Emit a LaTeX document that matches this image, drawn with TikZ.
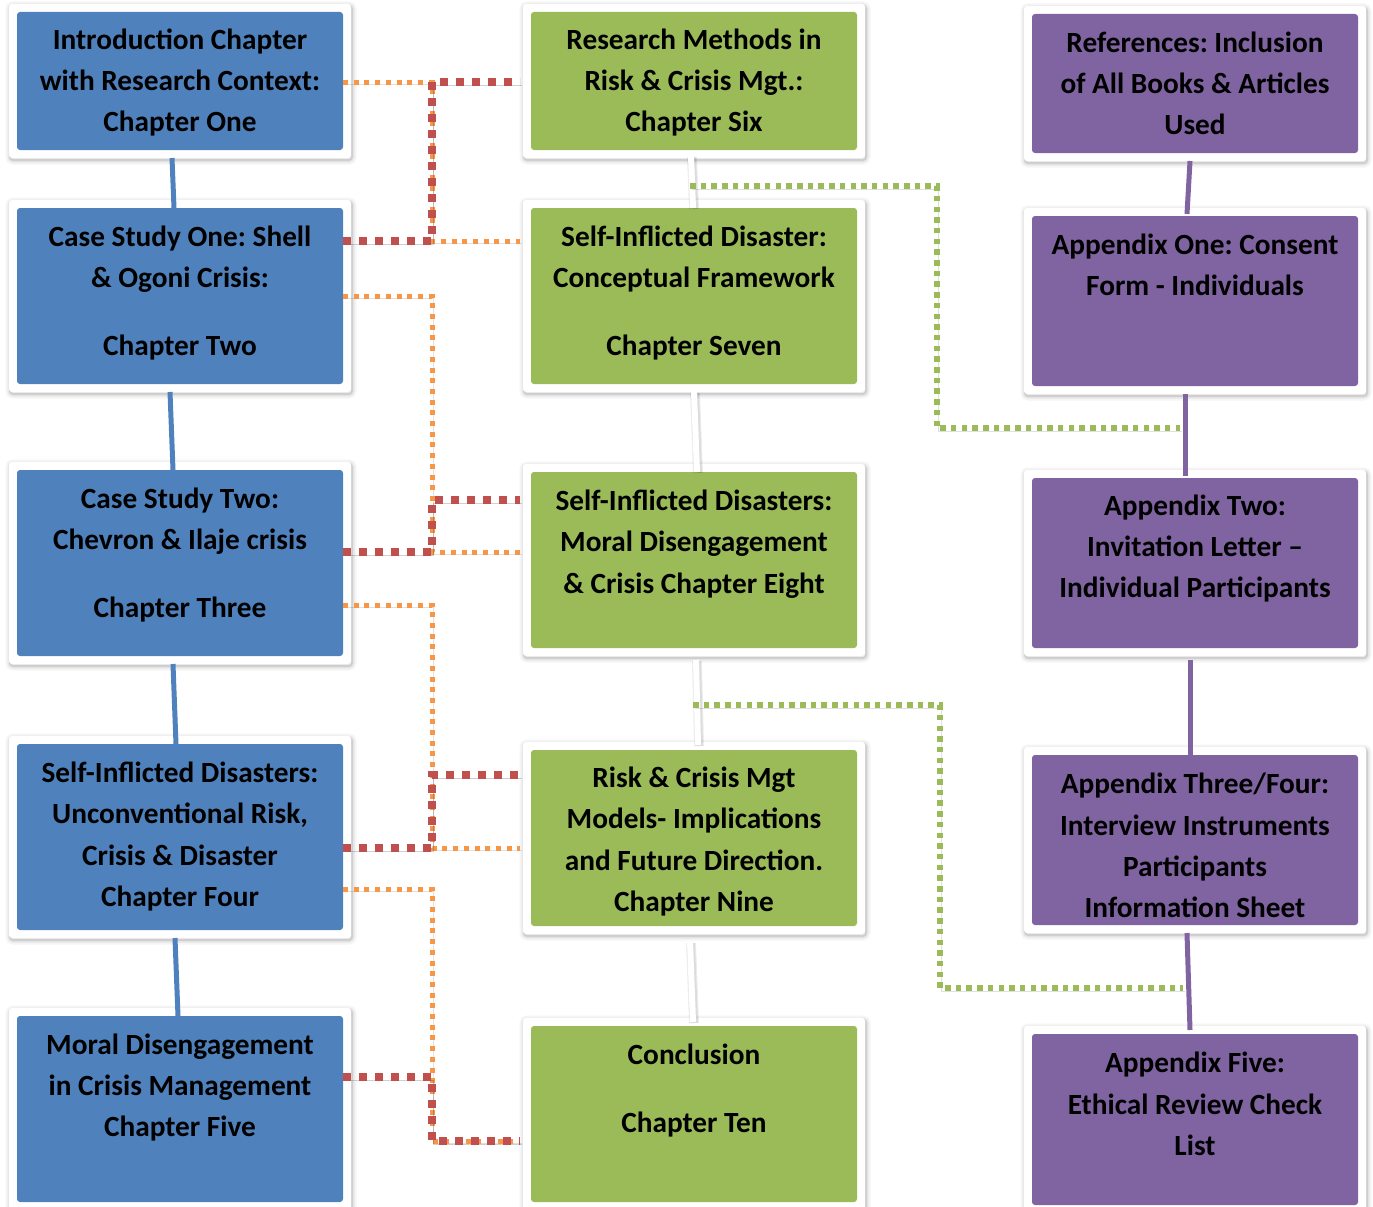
\documentclass[tikz,border=0pt]{standalone}
\usepackage{fontspec}
\setmainfont{Carlito}
\frenchspacing
\usetikzlibrary{calc}
\definecolor{blueC}{HTML}{4F81BD}
\definecolor{greenC}{HTML}{9BBB59}
\definecolor{purpleC}{HTML}{8064A2}
\definecolor{redC}{HTML}{C0504D}
\definecolor{orangeC}{HTML}{F79646}
\tikzset{
  box/.style={rectangle, fill=white, inner sep=0pt, outer sep=0pt, rounded corners=3pt,
    minimum width=342pt, minimum height=#1,
    preaction={draw=black, opacity=.04, line width=9pt, transform canvas={shift={(1pt,-2pt)}}},
    preaction={draw=black, opacity=.06, line width=5pt, transform canvas={shift={(1pt,-2pt)}}},
    preaction={draw=black, opacity=.10, line width=2pt, transform canvas={shift={(1pt,-2pt)}}}},
  fillblue/.style={path picture={\fill[blueC] ([xshift=8pt,yshift=-8pt]path picture bounding box.north west) rectangle ([xshift=-8pt,yshift=8pt]path picture bounding box.south east);}},
  fillgreen/.style={path picture={\fill[greenC] ([xshift=8pt,yshift=-8pt]path picture bounding box.north west) rectangle ([xshift=-8pt,yshift=8pt]path picture bounding box.south east);}},
  fillpurple/.style={path picture={\fill[purpleC] ([xshift=8pt,yshift=-8pt]path picture bounding box.north west) rectangle ([xshift=-8pt,yshift=8pt]path picture bounding box.south east);}},
  txt/.style={align=center, inner sep=0pt, font=\fontsize{29.3}{41.3}\selectfont\bfseries},
  bluelink/.style={draw=blueC, line width=5pt},
  purplelink/.style={draw=purpleC, line width=5pt},
  whitelink/.style={draw=white, line width=6pt,
    preaction={draw=black, opacity=.07, line width=10pt, transform canvas={shift={(1pt,-1pt)}}},
    preaction={draw=black, opacity=.07, line width=8pt, transform canvas={shift={(1pt,-1pt)}}}},
  reddot/.style={draw=redC, line width=8.5pt, dash pattern=on 8pt off 8pt,
    preaction={draw=black, opacity=.18, transform canvas={shift={(1.5pt,-3pt)}}}},
  orangedot/.style={draw=orangeC, line width=5pt, dash pattern=on 5pt off 5.7pt,
    preaction={draw=black, opacity=.12, transform canvas={shift={(1.5pt,-2.5pt)}}}},
  greendot/.style={draw=greenC, line width=5.5pt, dash pattern=on 5.5pt off 5.2pt,
    preaction={draw=black, opacity=.12, transform canvas={shift={(1.5pt,-3pt)}}}},
}
\begin{document}
\begin{tikzpicture}[x=1pt,y=-1pt]
\useasboundingbox (0,0) rectangle (1373,1207);
% left column
\node[box=154pt, fillblue] (L1) at (180,81) {};
\node[box=192pt, fillblue] (L2) at (180,296) {};
\node[box=202pt, fillblue] (L3) at (180,563) {};
\node[box=202pt, fillblue] (L4) at (180,837) {};
\node[box=202pt, fillblue] (L5) at (180,1109) {};
% middle column
\node[box=154pt, fillgreen] (M1) at (694,81) {};
\node[box=192pt, fillgreen] (M2) at (694,296) {};
\node[box=192pt, fillgreen] (M3) at (694,560) {};
\node[box=192pt, fillgreen] (M4) at (694,838) {};
\node[box=192pt, fillgreen] (M5) at (694,1114) {};
% right column
\node[box=155pt, fillpurple] (R1) at (1195,83.5) {};
\node[box=186pt, fillpurple] (R2) at (1195,301) {};
\node[box=186pt, fillpurple] (R3) at (1195,563) {};
\node[box=186pt, fillpurple] (R4) at (1195,840) {};
\node[box=187pt, fillpurple] (R5) at (1195,1119.5) {};
% texts
\node[txt] (tL1) at (180,82.5) {Introduction Chapter\\with Research Context:\\Chapter One};
\node[txt] (tL2) at (180,293) {Case Study One: Shell\\\& Ogoni Crisis:\\[27pt]Chapter Two};
\node[txt] (tL3) at (180,555) {Case Study Two:\\Chevron \& Ilaje crisis\\[27pt]Chapter Three};
\node[txt] (tL4) at (180,836.5) {Self-Inflicted Disasters:\\Unconventional Risk,\\Crisis \& Disaster\\Chapter Four};
\node[txt] (tL5) at (180,1087.5) {Moral Disengagement\\in Crisis Management\\Chapter Five};
\node[txt] (tM1) at (694,82.5) {Research Methods in\\Risk \& Crisis Mgt.:\\Chapter Six};
\node[txt] (tM2) at (694,293) {Self-Inflicted Disaster:\\Conceptual Framework\\[27pt]Chapter Seven};
\node[txt] (tM3) at (694,544) {Self-Inflicted Disasters:\\Moral Disengagement\\\& Crisis Chapter Eight};
\node[txt] (tM4) at (694,841.5) {Risk \& Crisis Mgt\\Models- Implications\\and Future Direction.\\Chapter Nine};
\node[txt] (tM5) at (694,1090.5) {Conclusion\\[27pt]Chapter Ten};
\node[txt] (tR1) at (1195,83.5) {References: Inclusion\\of All Books \& Articles\\Used};
\node[txt] (tR2) at (1195,265) {Appendix One: Consent\\Form - Individuals};
\node[txt] (tR3) at (1195,548.5) {Appendix Two:\\Invitation Letter –\\Individual Participants};
\node[txt] (tR4) at (1195,845.5) {Appendix Three/Four:\\Interview Instruments\\Participants\\Information Sheet};
\node[txt] (tR5) at (1195,1104) {Appendix Five:\\Ethical Review Check\\List};
% vertical links
\draw[bluelink] ($(L1.south)+(-8,0)$) -- ($(L2.north)+(-6,8)$);
\draw[bluelink] ($(L2.south)+(-10,0)$) -- ($(L3.north)+(-7,8)$);
\draw[bluelink] ($(L3.south)+(-7,0)$) -- ($(L4.north)+(-4,8)$);
\draw[bluelink] ($(L4.south)+(-5,0)$) -- ($(L5.north)+(-2,8)$);
\draw[whitelink] ($(M1.south)+(-3,-2)$) -- ($(M2.north)+(-1,8)$);
\draw[whitelink] ($(M2.south)+(0,0)$) -- ($(M3.north)+(3,8)$);
\draw[whitelink] ($(M3.south)+(2,4)$) -- ($(M4.north)+(4,3)$);
\draw[whitelink] ($(M4.south)+(-4,8)$) -- ($(M5.north)+(-1,4)$);
\draw[purplelink] ($(R1.south)+(-5,0)$) -- ($(R2.north)+(-8,6)$);
\draw[purplelink] ($(R2.south)+(-10,0)$) -- ($(R3.north)+(-10,6)$);
\draw[purplelink] ($(R3.south)+(-5,4)$) -- ($(R4.north)+(-5,8)$);
\draw[purplelink] ($(R4.south)+(-8,0)$) -- ($(R5.north)+(-5,4)$);
% junction coordinates
\coordinate (jx) at (432,0);
\coordinate (gx1) at (937,0);
\coordinate (gx2) at (940,0);
\coordinate (o1s) at ($(L1.north east)+(-8,78)$);
\coordinate (o1e) at ($(M2.north west)+(-3,41)$);
\coordinate (r1s) at ($(L2.north east)+(-8,41)$);
\coordinate (r1e) at ($(M1.north west)+(-3,78)$);
\coordinate (o2s) at ($(L2.north east)+(-8,96)$);
\coordinate (o2e) at ($(M3.north west)+(-3,88)$);
\coordinate (r2s) at ($(L3.north east)+(-8,90)$);
\coordinate (r2e) at ($(M3.north west)+(-3,36)$);
\coordinate (o3s) at ($(L3.north east)+(-8,143)$);
\coordinate (o3e) at ($(M4.north west)+(-3,106)$);
\coordinate (r3s) at ($(L4.north east)+(-8,112)$);
\coordinate (r3e) at ($(M4.north west)+(-3,33)$);
\coordinate (o4s) at ($(L4.north east)+(-8,153)$);
\coordinate (o4e) at ($(M5.north west)+(-3,123)$);
\coordinate (r4s) at ($(L5.north east)+(-8,69)$);
\coordinate (r4e) at ($(M5.north west)+(-3,123)$);
\coordinate (g1s) at ($(M1.south)+(-4,28)$);
\coordinate (g1e) at ($(R2.south)+(-15,34)$);
\coordinate (g2s) at ($(M3.south)+(-1,49)$);
\coordinate (g2e) at ($(R4.south)+(-12,55)$);
% dotted connectors
\draw[orangedot] (o1s) -| (jx |- o1e) -- (o1e);
\draw[orangedot] (o2s) -| (jx |- o2e) -- (o2e);
\draw[orangedot] (o3s) -| (jx |- o3e) -- (o3e);
\draw[orangedot] (o4s) -| (jx |- o4e) -- (o4e);
\draw[reddot] (r1s) -| (jx |- r1e) -- (r1e);
\draw[reddot] (r2s) -| (jx |- r2e) -- (r2e);
\draw[reddot] (r3s) -| (jx |- r3e) -- (r3e);
\draw[reddot] (r4s) -| (jx |- r4e) -- (r4e);
\draw[greendot] (g1s) -| (gx1 |- g1e) -- (g1e);
\draw[greendot] (g2s) -| (gx2 |- g2e) -- (g2e);
\end{tikzpicture}
\end{document}
